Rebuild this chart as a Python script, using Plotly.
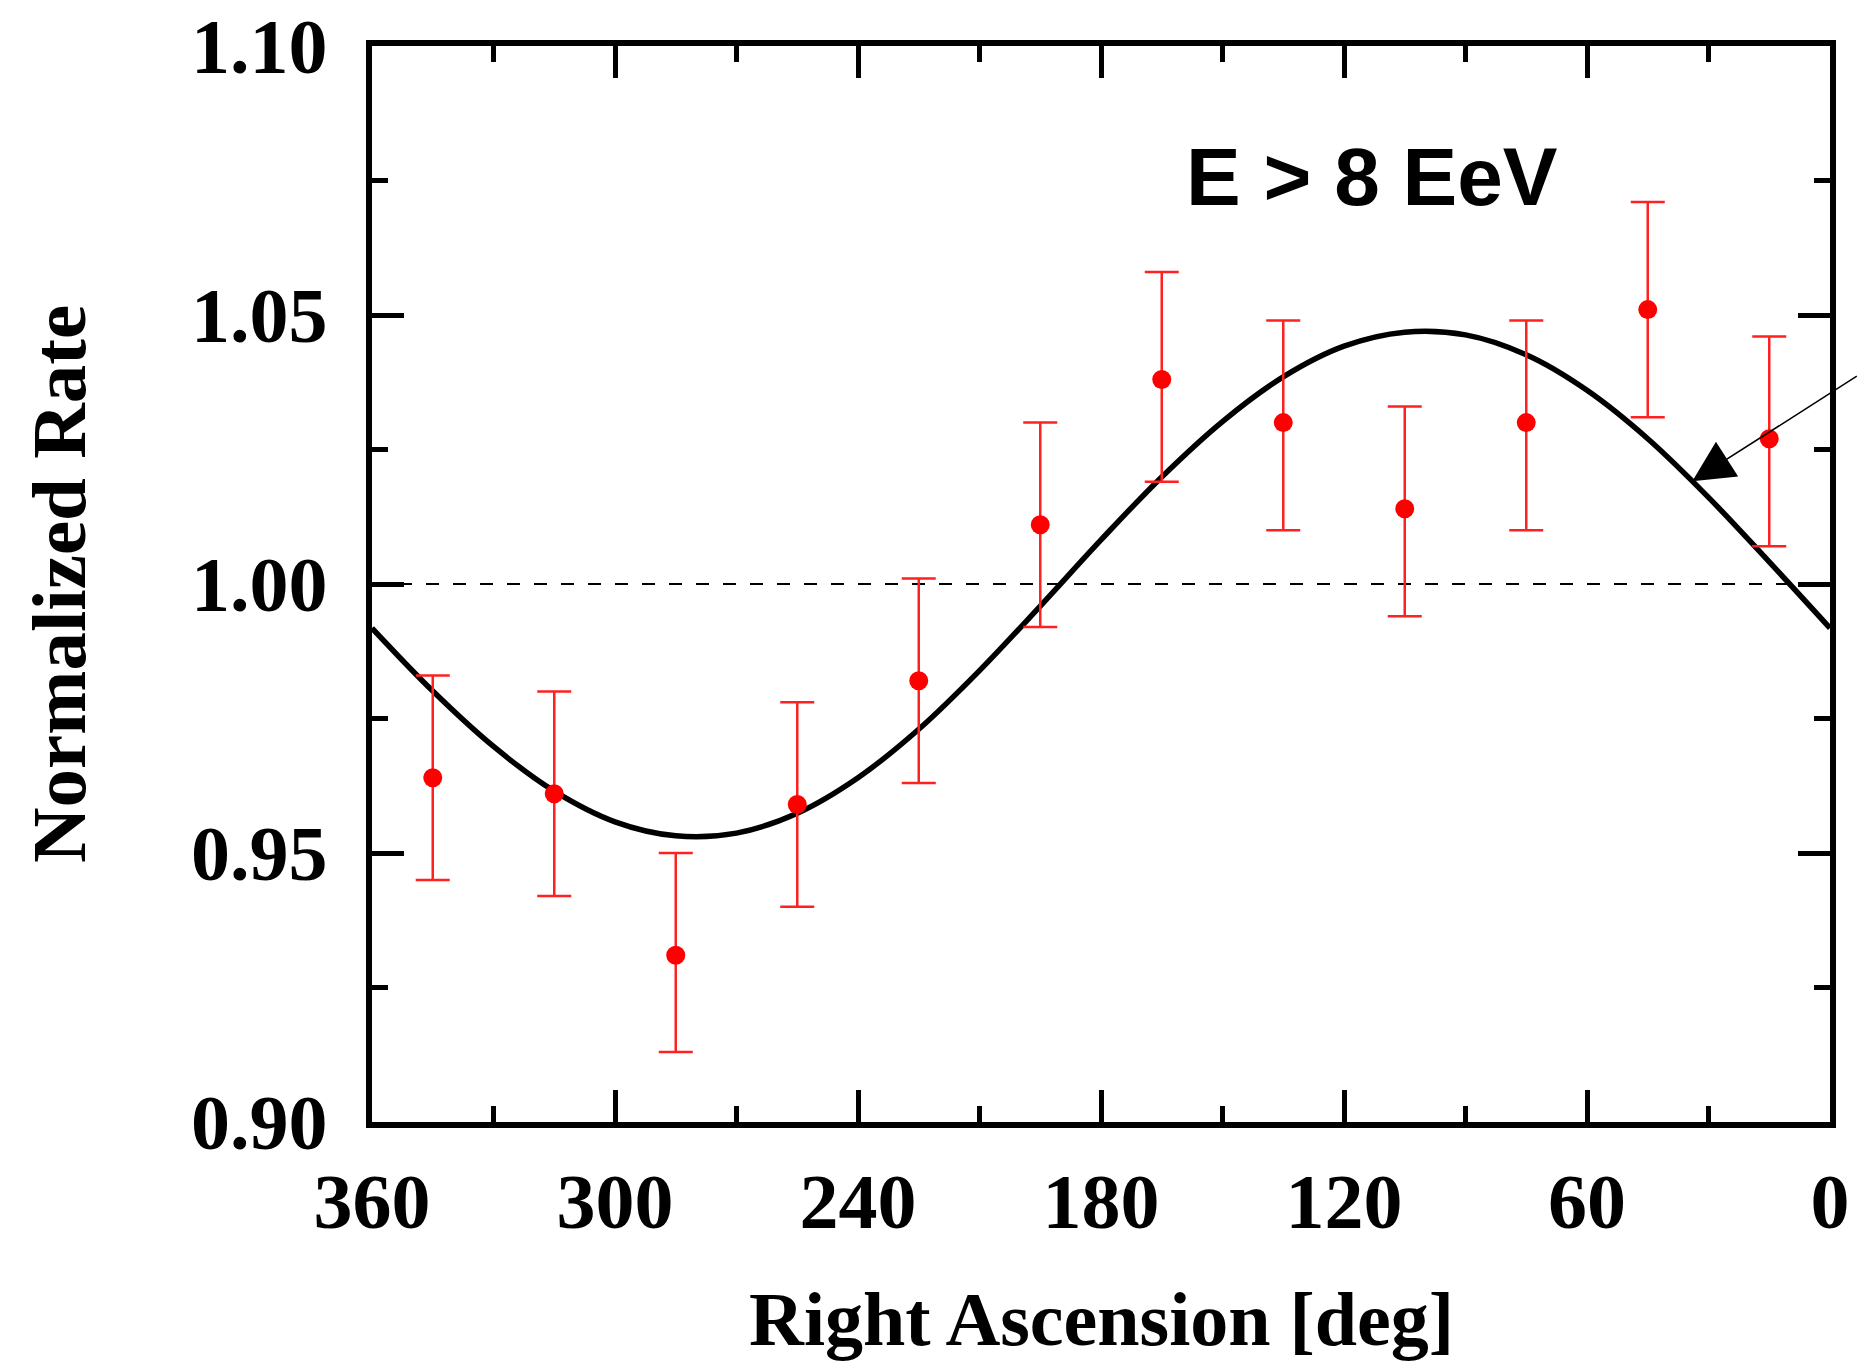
import plotly.graph_objects as go

# Data
ra_bins = [345, 315, 285, 255, 225, 195, 165, 135, 105, 75, 45, 15]
rate = [0.964, 0.961, 0.931, 0.959, 0.982, 1.011, 1.038, 1.030, 1.014, 1.030, 1.051, 1.027]
err_plus = [0.019, 0.019, 0.019, 0.019, 0.019, 0.019, 0.020, 0.019, 0.019, 0.019, 0.020, 0.019]
err_minus = [0.019, 0.019, 0.018, 0.019, 0.019, 0.019, 0.019, 0.020, 0.020, 0.020, 0.020, 0.020]

fit_ra = [0, 15, 30, 45, 60, 75, 90, 105, 120, 135, 150, 165, 180,
          195, 210, 225, 240, 255, 270, 285, 300, 315, 330, 345, 360]
fit_rate = [0.9918, 1.0041, 1.0161, 1.0270, 1.0360, 1.0426, 1.0463, 1.0468, 1.0442, 1.0385,
            1.0302, 1.0199, 1.0082, 0.9959, 0.9839, 0.9730, 0.9640, 0.9574, 0.9537, 0.9532,
            0.9558, 0.9615, 0.9698, 0.9801, 0.9918]

x_ticks = [360, 300, 240, 180, 120, 60, 0]
y_ticks = [0.90, 0.95, 1.00, 1.05, 1.10]

label_text = "E > 8 EeV"
label_ra = 113
label_rate = 1.0757
arrow_ra = 34
arrow_rate = 1.0191

serif = "Liberation Serif"
sans = "Liberation Sans"

fig = go.Figure()

# reference line at 1.00
fig.add_trace(go.Scatter(
    x=[360, 0], y=[1.0, 1.0], mode="lines",
    line=dict(color="black", width=2, dash="13px,14px"),
    hoverinfo="skip", showlegend=False))

# fit curve
fig.add_trace(go.Scatter(
    x=fit_ra, y=fit_rate, mode="lines",
    line=dict(color="black", width=5.5, shape="spline", smoothing=1.0),
    showlegend=False))

# data points
fig.add_trace(go.Scatter(
    x=ra_bins, y=rate, mode="markers",
    marker=dict(color="#ff0000", size=19),
    error_y=dict(type="data", symmetric=False, array=err_plus, arrayminus=err_minus,
                 color="#ff2020", thickness=2.5, width=17),
    showlegend=False))

fig.add_annotation(x=arrow_ra, y=arrow_rate, xref="x", yref="y", text="",
                   showarrow=True, arrowhead=2, arrowsize=5.5, arrowwidth=1.5,
                   arrowcolor="black", ax=166, ay=-106, standoff=0)

fig.add_annotation(x=label_ra, y=label_rate, xref="x", yref="y",
                   text="<b>" + label_text + "</b>", showarrow=False,
                   font=dict(family=sans, size=82, color="black"),
                   xanchor="center", yanchor="middle")

fig.add_annotation(x=0.5, y=0, xref="paper", yref="paper",
                   text="<b>Right Ascension [deg]</b>", showarrow=False,
                   font=dict(family=serif, size=76, color="black"),
                   xanchor="center", yanchor="middle", yshift=-197)

fig.add_annotation(x=0, y=0.5, xref="paper", yref="paper",
                   text="<b>Normalized Rate</b>", showarrow=False, textangle=-90,
                   font=dict(family=serif, size=77, color="black"),
                   xanchor="center", yanchor="middle", xshift=-313)

axis_common = dict(
    showline=True, linecolor="black", linewidth=6, mirror="allticks",
    ticks="inside", ticklen=32, tickwidth=5, tickcolor="black",
    showgrid=False, zeroline=False,
    tickfont=dict(family=serif, size=78, color="black"),
)

fig.update_xaxes(range=[360, 0], tickvals=x_ticks,
                 ticktext=["<b>%d</b>" % v for v in x_ticks],
                 ticklabelstandoff=6,
                 minor=dict(dtick=30, tick0=0, ticks="inside", ticklen=16, tickwidth=5,
                            tickcolor="black", showgrid=False),
                 **axis_common)
fig.update_yaxes(range=[0.90, 1.10], tickvals=y_ticks,
                 ticktext=["<b>%.2f</b>" % v for v in y_ticks],
                 ticklabelstandoff=23,
                 minor=dict(dtick=0.025, tick0=0.9, ticks="inside", ticklen=16, tickwidth=5,
                            tickcolor="black", showgrid=False),
                 **axis_common)

fig.update_layout(
    width=1860, height=1361,
    margin=dict(l=372, r=30, t=46, b=239, autoexpand=False),
    paper_bgcolor="white", plot_bgcolor="white",
    showlegend=False,
)

fig.write_html("out.html")
